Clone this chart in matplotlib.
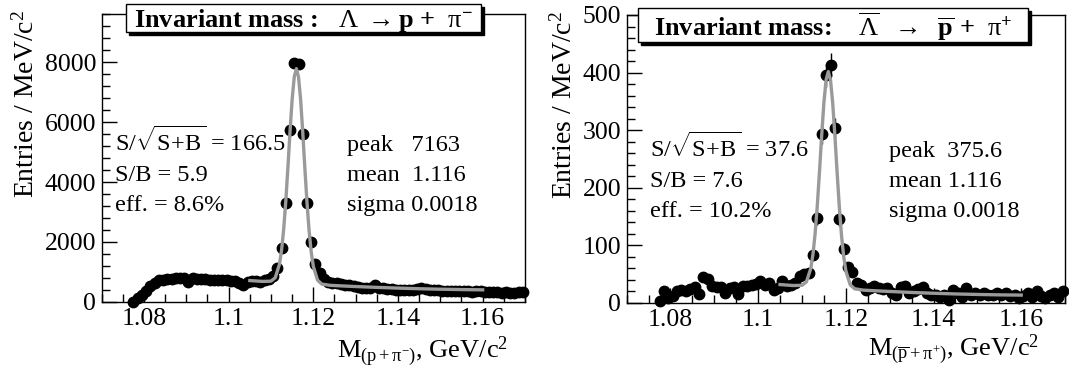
import numpy as np
import matplotlib
matplotlib.use('Agg')
import matplotlib.pyplot as plt
from matplotlib.patches import Rectangle
from matplotlib.ticker import MultipleLocator, FuncFormatter

plt.rcParams['font.family'] = ['Liberation Serif', 'DejaVu Serif']
plt.rcParams['mathtext.fontset'] = 'custom'
plt.rcParams['mathtext.rm'] = 'Liberation Serif'
plt.rcParams['mathtext.it'] = 'Liberation Serif:italic'
plt.rcParams['mathtext.bf'] = 'Liberation Serif:bold'
plt.rcParams['mathtext.default'] = 'regular'

# 1 MeV bins from 1.077 to 1.170 GeV/c2
bin_first = 1.0775
bin_width = 0.001

# Lambda -> p + pi-  (entries per bin)
lam_counts = [0, 120, 230, 380, 520, 640, 720, 740, 750, 780,
              800, 810, 790, 680, 790, 770, 760, 750, 740, 740,
              730, 740, 720, 700, 690, 640, 580, 650, 700, 690,
              680, 720, 760, 850, 1120, 1800, 3300, 5750, 7980, 7930,
              5600, 3300, 2000, 1250, 950, 780, 680, 640, 620, 590,
              570, 550, 530, 500, 480, 460, 470, 560, 480, 450,
              430, 420, 410, 400, 400, 390, 400, 420, 450, 430,
              410, 400, 390, 380, 370, 360, 370, 360, 350, 350,
              340, 360, 370, 340, 320, 330, 340, 310, 320, 300,
              310, 320, 340]

# anti-Lambda -> pbar + pi+
alam_counts = [3, 20, 8, 12, 20, 22, 20, 25, 28, 15,
               45, 42, 30, 28, 27, 18, 26, 28, 16, 30,
               29, 32, 33, 38, 32, 35, 23, 26, 38, 29,
               32, 35, 46, 51, 52, 84, 148, 293, 395, 414,
               303, 146, 94, 62, 53, 35, 32, 23, 26, 29,
               26, 24, 26, 18, 14, 28, 29, 17, 20, 24,
               28, 17, 13, 14, 10, 13, 6, 23, 17, 10,
               26, 14, 17, 13, 17, 14, 13, 17, 14, 17,
               12, 14, 9, 12, 17, 10, 20, 12, 9, 14,
               17, 10, 20]

# fit curves (gaus + background)
fit_x = [1.105, 1.108, 1.110, 1.111, 1.112, 1.1125, 1.113, 1.1135, 1.114, 1.1145,
         1.115, 1.1155, 1.116, 1.1165, 1.117, 1.1175, 1.118, 1.1185, 1.119, 1.1195,
         1.120, 1.121, 1.122, 1.124, 1.127, 1.130, 1.135, 1.140, 1.145, 1.150,
         1.155, 1.160]
lam_fit = [715, 686, 695, 809, 1256, 1727, 2426, 3367, 4495, 5690,
           6762, 7511, 7778, 7503, 6746, 5666, 4462, 3326, 2377, 1669,
           1190, 727, 596, 555, 534, 515, 487, 463, 442, 426,
           414, 405]
alam_fit = [32, 30.3, 30.7, 36.5, 59.9, 84.5, 121.2, 170.5, 229.6, 292.3,
            348.4, 387.7, 401.6, 387.2, 347.4, 290.8, 227.6, 168, 118.2, 81,
            55.9, 31.5, 24.7, 22.3, 21.1, 20, 18.3, 16.9, 15.7, 14.8,
            14.1, 13.7]

lam_stats = ['S/$\\sqrt{\\mathregular{S\\!+\\!B}}$ = 166.5', 'S/B = 5.9', 'eff. = 8.6%']
lam_pars = ['peak   7163', 'mean  1.116', 'sigma 0.0018']
alam_stats = ['S/$\\sqrt{\\mathregular{S\\!+\\!B}}$ = 37.6', 'S/B = 7.6', 'eff. = 10.2%']
alam_pars = ['peak  375.6', 'mean 1.116', 'sigma 0.0018']

W, H = 1069, 369
fig = plt.figure(figsize=(W / 100, H / 100), dpi=100)
ax1 = fig.add_axes([0.0951, 0.1816, 0.3960, 0.7804])
ax2 = fig.add_axes([0.5862, 0.1789, 0.4101, 0.7805])


def draw_panel(ax, counts, fit_y, ymax, ymajor, yminor, stats, pars,
               stats_x, pars_x, rows_y, xlabel, xlabel_x, xlabel_y, ylabel_x):
    x = bin_first + bin_width * np.arange(len(counts))
    y = np.array(counts, dtype=float)
    ax.errorbar(x, y, yerr=np.sqrt(y), fmt='o', color='black', ms=7.5,
                elinewidth=1, capsize=0, zorder=2, clip_on=False)
    ax.plot(fit_x, fit_y, color='#9a9a9a', lw=2.4, zorder=3)

    ax.set_xlim(1.07, 1.17)
    ax.set_ylim(0, ymax)
    ax.xaxis.set_major_locator(MultipleLocator(0.02))
    ax.xaxis.set_minor_locator(MultipleLocator(0.005))
    ax.yaxis.set_major_locator(MultipleLocator(ymajor))
    ax.yaxis.set_minor_locator(MultipleLocator(yminor))
    ax.xaxis.set_major_formatter(FuncFormatter(lambda v, p: '%g' % round(v, 4)))
    ax.yaxis.set_major_formatter(FuncFormatter(lambda v, p: '%d' % v))
    ax.tick_params(which='both', direction='in', top=False, right=False,
                   labelsize=18.5, width=1, pad=4)
    ax.tick_params(which='major', length=11)
    ax.tick_params(which='minor', length=6)
    for s in ax.spines.values():
        s.set_linewidth(1)

    ax.set_ylabel('Entries / MeV/c$^{2}$', fontsize=20, loc='top')
    ax.yaxis.set_label_coords(ylabel_x, 1.015)
    ax.set_xlabel(xlabel, fontsize=19, loc='right')
    ax.xaxis.set_label_coords(xlabel_x, xlabel_y)

    for txt, ry in zip(stats, rows_y):
        ax.text(stats_x, ry, txt, transform=ax.transAxes, fontsize=17.5,
                ha='left', va='baseline')
    for txt, ry in zip(pars, rows_y):
        ax.text(pars_x, ry, txt, transform=ax.transAxes, fontsize=17.5,
                ha='left', va='baseline')


draw_panel(ax1, lam_counts, lam_fit, 9600, 2000, 400, lam_stats, lam_pars,
           0.031, 0.579, [0.525, 0.421, 0.317],
           'M$_{(p+\\mathrm{\\pi}^{-})}$, GeV/c$^{2}$', 0.96, -0.115, -0.146)
draw_panel(ax2, alam_counts, alam_fit, 500, 100, 20, alam_stats, alam_pars,
           0.053, 0.599, [0.507, 0.403, 0.299],
           'M$_{(\\overline{p}+\\mathrm{\\pi}^{+})}$, GeV/c$^{2}$', 0.94, -0.105, -0.111)


def title_box(x0, y0, x1, y1, text):
    # ROOT-like pave with a shadow, coordinates in pixels from top-left
    shadow = Rectangle(((x0 + 3) / W, 1 - (y1 + 3) / H), (x1 - x0) / W, (y1 - y0) / H,
                       transform=fig.transFigure, fc='black', ec='black', lw=1)
    box = Rectangle((x0 / W, 1 - y1 / H), (x1 - x0) / W, (y1 - y0) / H,
                    transform=fig.transFigure, fc='white', ec='black', lw=1)
    fig.patches.extend([shadow, box])
    fig.text((x0 + x1) / 2 / W, 1 - (y0 + y1 + 4) / 2 / H, text, ha='center', va='center',
             fontsize=19, fontweight='bold')


title_box(126, 4, 481, 32,
          'Invariant mass :   $\\mathrm{\\Lambda}$ $\\mathrm{\\rightarrow}$p +  $\\mathrm{\\pi}^{-}$')
title_box(638, 8, 1028, 42,
          'Invariant mass:    $\\mathrm{\\overline{\\Lambda}}$  $\\mathrm{\\rightarrow}$  '
          '$\\mathbf{\\overline{p}}$ +  $\\mathrm{\\pi}^{+}$')

fig.savefig('out.png', dpi=100)
